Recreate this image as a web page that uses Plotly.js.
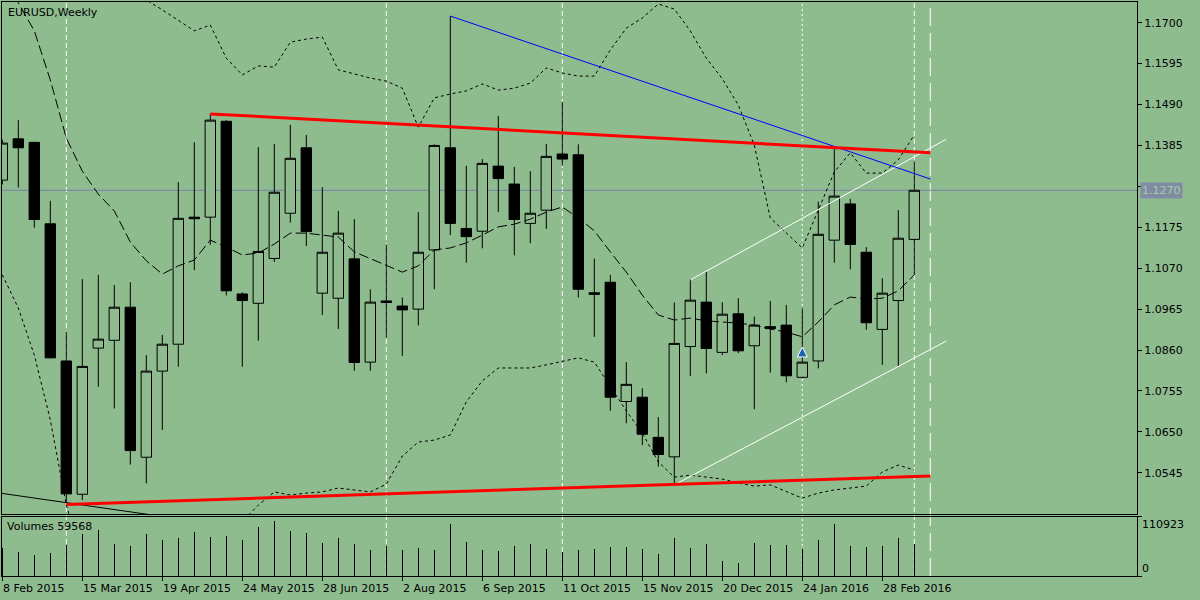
<!DOCTYPE html>
<html>
<head>
<meta charset="utf-8">
<script src="https://cdn.plot.ly/plotly-3.0.1.min.js"></script>
<style>html,body{margin:0;padding:0;background:#8FBC8F;}#chart{width:1200px;height:600px;}</style>
</head>
<body>
<div id="chart"></div>
<script>
// ---- Data (weekly EURUSD) ----
const weekIndex = [0,1,2,3,4,5,6,7,8,9,10,11,12,13,14,15,16,17,18,19,20,21,22,23,24,25,26,27,28,29,30,31,32,33,34,35,36,37,38,39,40,41,42,43,44,45,46,47,48,49,50,51,52,53,54,55,56,57];
const openP  = [1.1296,1.1402,1.1393,1.1184,1.0832,1.0490,1.0865,1.0885,1.0970,1.0585,1.0806,1.0875,1.1201,1.1201,1.1447,1.1004,1.0980,1.1095,1.1211,1.1379,1.1006,1.0993,1.1094,1.0829,1.0986,1.0973,1.0965,1.1117,1.1379,1.1172,1.1165,1.1332,1.1286,1.1185,1.1219,1.1363,1.1361,1.1007,1.1034,1.0728,1.0739,1.0636,1.0586,1.0869,1.0983,1.0854,1.0953,1.0871,1.0920,1.0924,1.0790,1.0832,1.1142,1.1235,1.1111,1.0913,1.0987,1.1144];
const highP  = [1.1400,1.1450,1.1394,1.1243,1.0907,1.1042,1.1053,1.1027,1.1034,1.0847,1.0899,1.1291,1.1393,1.1466,1.1450,1.1008,1.1381,1.1389,1.1438,1.1412,1.1278,1.1217,1.1196,1.1016,1.1131,1.0995,1.1214,1.1388,1.1717,1.1333,1.1350,1.1461,1.1330,1.1319,1.1389,1.1497,1.1388,1.1095,1.1053,1.0829,1.0762,1.0688,1.0982,1.1042,1.1061,1.0983,1.0993,1.0946,1.0986,1.0976,1.0967,1.1241,1.1379,1.1248,1.1124,1.1044,1.1219,1.1343];
const lowP   = [1.1285,1.1277,1.1174,1.0839,1.0468,1.0475,1.0766,1.0710,1.0566,1.0518,1.0655,1.0817,1.1065,1.1130,1.1000,1.0817,1.0884,1.1086,1.1187,1.1127,1.0950,1.0914,1.0807,1.0807,1.0892,1.0845,1.0923,1.1016,1.1155,1.1084,1.1121,1.1214,1.1103,1.1134,1.1171,1.1333,1.0995,1.0894,1.0704,1.0672,1.0616,1.0561,1.0518,1.0793,1.0800,1.0847,1.0852,1.0708,1.0802,1.0777,1.0788,1.0813,1.1084,1.1067,1.0912,1.0822,1.0819,1.1053];
const closeP = [1.1391,1.1379,1.1195,1.0840,1.0491,1.0818,1.0888,1.0970,1.0602,1.0806,1.0875,1.1198,1.1197,1.1450,1.1012,1.0987,1.1113,1.1265,1.1352,1.1164,1.1111,1.1160,1.0828,1.0983,1.0982,1.0963,1.1111,1.1385,1.1185,1.1151,1.1339,1.1300,1.1195,1.1211,1.1357,1.1350,1.1016,1.1003,1.0739,1.0772,1.0644,1.0592,1.0877,1.0988,1.0864,1.0952,1.0858,1.0924,1.0915,1.0794,1.0829,1.1157,1.1255,1.1131,1.0930,1.1006,1.1147,1.1270];
const volumes = [52000,45360,39690,43470,58590,79380,86940,60480,56700,79380,68040,71820,83160,73710,75600,68040,92610,103950,85050,81270,62370,71820,60480,49140,56700,49140,52920,49140,98280,64260,49140,47250,56700,60480,51030,45360,49140,51030,54810,54810,51030,41580,71820,52920,60480,28350,24570,62370,58590,58590,51030,68040,98280,56700,54810,56700,71820,59568];
const volumeMax = 110923;

// Moving average (dashed) and Bollinger bands (dotted)
const maLine    = [1.1835,1.1751,1.1679,1.1553,1.1404,1.1319,1.1260,1.1217,1.1137,1.1089,1.1055,1.1076,1.1091,1.1142,1.1124,1.1104,1.1109,1.1132,1.1160,1.1160,1.1155,1.1150,1.1112,1.1094,1.1078,1.1060,1.1076,1.1117,1.1122,1.1135,1.1155,1.1176,1.1183,1.1196,1.1214,1.1227,1.1199,1.1166,1.1112,1.1060,1.1001,1.0950,1.0937,1.0942,1.0935,1.0932,1.0929,1.0924,1.0914,1.0906,1.0894,1.0932,1.0976,1.0996,1.0991,1.0993,1.1012,1.1053];
const upperBand = [null,null,null,null,null,null,null,null,1.1797,1.1758,1.1733,1.1707,1.1679,1.1694,1.1609,1.1566,1.1589,1.1586,1.1650,1.1658,1.1663,1.1579,1.1568,1.1558,1.1550,1.1532,1.1432,1.1507,1.1517,1.1525,1.1543,1.1527,1.1532,1.1545,1.1584,1.1571,1.1563,1.1563,1.1630,1.1686,1.1712,1.1748,1.1735,1.1679,1.1609,1.1556,1.1489,1.1386,1.1199,1.1160,1.1122,1.1219,1.1317,1.1366,1.1314,1.1314,1.1348,1.1412];
const lowerBand = [1.1053,1.0968,1.0847,1.0681,1.0462,1.0321,1.0250,1.0220,1.0200,1.0200,1.0220,1.0250,1.0280,1.0320,1.0370,1.0421,1.0462,1.0496,1.0488,1.0493,1.0496,1.0506,1.0501,1.0496,1.0516,1.0588,1.0624,1.0629,1.0642,1.0727,1.0781,1.0814,1.0814,1.0814,1.0822,1.0832,1.0840,1.0829,1.0765,1.0704,1.0647,1.0573,1.0534,1.0539,1.0534,1.0529,1.0519,1.0511,1.0514,1.0496,1.0480,1.0493,1.0501,1.0506,1.0511,1.0547,1.0565,1.0552];

// Drawn trend lines: [startWeek, endWeek], [startPrice, endPrice]
const redUpperWeeks = [13, 58],   redUpperPrices = [1.1466, 1.1366];
const redLowerWeeks = [4, 58],    redLowerPrices = [1.0464, 1.0537];
const blueWeeks     = [28, 58],   bluePrices     = [1.1717, 1.1299];
const whiteUpWeeks  = [43, 59],   whiteUpPrices  = [1.1040, 1.1401];
const whiteLoWeeks  = [42, 59],   whiteLoPrices  = [1.0514, 1.0883];
const blackWeeks    = [-1, 10],   blackPrices    = [1.0498, 1.0433];
const arrowWeek = [50], arrowPrice = [1.0868];

// Vertical marker lines (week index)
const vlineWeeks = [4, 24, 35, 50, 57, 58];

// Axis ticks
const priceTicks = [1.1700,1.1595,1.1490,1.1385,1.1280,1.1175,1.1070,1.0965,1.0860,1.0755,1.0650,1.0545];
const dateTickWeeks = [0,5,10,15,20,25,30,35,40,45,50,55];
const dateTickLabels = ["8 Feb 2015","15 Mar 2015","19 Apr 2015","24 May 2015","28 Jun 2015","2 Aug 2015","6 Sep 2015","11 Oct 2015","15 Nov 2015","20 Dec 2015","24 Jan 2016","28 Feb 2016"];

// ---- Styling / layout ----
const BG = '#8FBC8F';
const FONT = 'DejaVu Sans, sans-serif';
const lastClose = closeP[closeP.length - 1];
// tick label hidden by the current-price box (as on the original chart)
const priceTickText = priceTicks.map(v => Math.abs(v - lastClose) < 0.0015 ? '' : v.toFixed(4));

const traces = [
  {
    type: 'candlestick', x: weekIndex, open: openP, high: highP, low: lowP, close: closeP,
    xaxis: 'x', yaxis: 'y',
    increasing: {line: {color: '#000', width: 1}, fillcolor: BG},
    decreasing: {line: {color: '#000', width: 1}, fillcolor: '#000'},
    whiskerwidth: 0, hoverinfo: 'skip', showlegend: false
  },
  {
    type: 'bar', x: weekIndex, y: volumes, xaxis: 'x2', yaxis: 'y2', width: 0.075,
    marker: {color: '#000', line: {width: 0}}, showlegend: false, hoverinfo: 'skip'
  },
  {type: 'scatter', mode: 'lines', x: weekIndex, y: maLine, line: {color: '#000', width: 1, dash: '10px,4px'}, showlegend: false, hoverinfo: 'skip'},
  {type: 'scatter', mode: 'lines', x: weekIndex, y: upperBand, line: {color: '#000', width: 1, dash: '3px,3px'}, connectgaps: false, showlegend: false, hoverinfo: 'skip'},
  {type: 'scatter', mode: 'lines', x: weekIndex, y: lowerBand, line: {color: '#000', width: 1, dash: '3px,3px'}, showlegend: false, hoverinfo: 'skip'},
  {type: 'scatter', mode: 'lines', x: blackWeeks, y: blackPrices, line: {color: '#000', width: 1}, showlegend: false, hoverinfo: 'skip'},
  {type: 'scatter', mode: 'lines', x: whiteUpWeeks, y: whiteUpPrices, line: {color: '#fff', width: 1}, showlegend: false, hoverinfo: 'skip'},
  {type: 'scatter', mode: 'lines', x: whiteLoWeeks, y: whiteLoPrices, line: {color: '#fff', width: 1}, showlegend: false, hoverinfo: 'skip'},
  {type: 'scatter', mode: 'lines', x: blueWeeks, y: bluePrices, line: {color: '#0000ff', width: 1}, showlegend: false, hoverinfo: 'skip'},
  {type: 'scatter', mode: 'lines', x: redUpperWeeks, y: redUpperPrices, line: {color: '#ff0000', width: 3}, showlegend: false, hoverinfo: 'skip'},
  {type: 'scatter', mode: 'lines', x: redLowerWeeks, y: redLowerPrices, line: {color: '#ff0000', width: 3}, showlegend: false, hoverinfo: 'skip'},
  {type: 'scatter', mode: 'markers', x: arrowWeek, y: arrowPrice, marker: {symbol: 'arrow-up', size: 10, color: '#1f63b5', line: {color: '#ffffff', width: 1}}, showlegend: false, hoverinfo: 'skip'}
];

const vDash = {4: '5px,3px', 24: '5px,3px', 35: '5px,3px', 50: '2px,3px', 57: '5px,3px', 58: '18px,7px'};
const shapes = vlineWeeks.map(w => ({
  type: 'line', xref: 'x', yref: 'paper', x0: w, x1: w, y0: 0, y1: 1, layer: 'below',
  line: {color: '#ffffff', width: 1, dash: vDash[w]}
}));
shapes.push({type: 'line', xref: 'paper', yref: 'y', x0: 0, x1: 1, y0: lastClose, y1: lastClose, layer: 'below', line: {color: '#7880a8', width: 1}});

const annotations = [
  {xref: 'paper', yref: 'paper', x: 0, y: 1, xanchor: 'left', yanchor: 'top', xshift: 4, yshift: -2, text: 'EURUSD,Weekly', showarrow: false, font: {family: FONT, size: 11, color: '#000'}},
  {xref: 'paper', yref: 'paper', x: 0, y: 0.1028, xanchor: 'left', yanchor: 'top', xshift: 3, yshift: -1, text: 'Volumes ' + volumes[volumes.length - 1], showarrow: false, font: {family: FONT, size: 11, color: '#000'}},
  {xref: 'paper', yref: 'y2', x: 1, y: volumeMax, xanchor: 'left', yanchor: 'top', xshift: 3, yshift: 1, text: String(volumeMax), showarrow: false, font: {family: FONT, size: 11, color: '#000'}},
  {xref: 'paper', yref: 'y2', x: 1, y: 0, xanchor: 'left', yanchor: 'bottom', xshift: 3, yshift: -1, text: '0', showarrow: false, font: {family: FONT, size: 11, color: '#000'}},
  {xref: 'paper', yref: 'y', x: 1, y: lastClose, xanchor: 'left', yanchor: 'middle', xshift: 3, text: lastClose.toFixed(4), showarrow: false, bgcolor: '#7f8ca4', borderpad: 1, font: {family: FONT, size: 11, color: '#a8cfa0'}}
];
dateTickWeeks.forEach((w, k) => {
  annotations.push({xref: 'x2', yref: 'paper', x: w, y: 0, xanchor: 'left', yanchor: 'top', xshift: -1, yshift: -4, text: dateTickLabels[k], showarrow: false, font: {family: FONT, size: 11, color: '#000'}});
});

const layout = {
  width: 1200, height: 600,
  margin: {l: 2, r: 63, t: 2, b: 24, pad: 0},
  paper_bgcolor: BG, plot_bgcolor: BG,
  showlegend: false,
  boxgap: 0.35, boxgroupgap: 0,
  bargap: 0,
  font: {family: FONT, size: 11, color: '#000'},
  xaxis: {
    domain: [0, 1], anchor: 'y', range: [-0.02, 70.92], showticklabels: false, ticks: '',
    showgrid: false, zeroline: false, showline: true, mirror: true, linecolor: '#000', linewidth: 1,
    rangeslider: {visible: false}, fixedrange: true
  },
  xaxis2: {
    domain: [0, 1], anchor: 'y2', matches: 'x', range: [-0.02, 70.92], showticklabels: false,
    ticks: 'outside', ticklen: 4, tickcolor: '#000', tickwidth: 1, tickvals: dateTickWeeks,
    showgrid: false, zeroline: false, showline: true, mirror: true, linecolor: '#000', linewidth: 1, fixedrange: true
  },
  yaxis: {
    domain: [0.108, 1], anchor: 'x', side: 'right', range: [1.04393, 1.17531],
    tickvals: priceTicks, ticktext: priceTickText,
    ticks: 'outside', ticklen: 4, tickcolor: '#000', tickwidth: 1,
    tickfont: {family: FONT, size: 11, color: '#000'},
    showgrid: false, zeroline: false, showline: true, mirror: true, linecolor: '#000', linewidth: 1, fixedrange: true
  },
  yaxis2: {
    domain: [0, 0.1028], anchor: 'x2', side: 'right', range: [0, volumeMax],
    tickvals: [0, volumeMax], showticklabels: false,
    ticks: 'outside', ticklen: 4, tickcolor: '#000', tickwidth: 1,
    showgrid: false, zeroline: false, showline: true, mirror: true, linecolor: '#000', linewidth: 1, fixedrange: true
  },
  shapes: shapes,
  annotations: annotations
};

Plotly.newPlot('chart', traces, layout, {staticPlot: true, displayModeBar: false});
</script>
</body>
</html>
